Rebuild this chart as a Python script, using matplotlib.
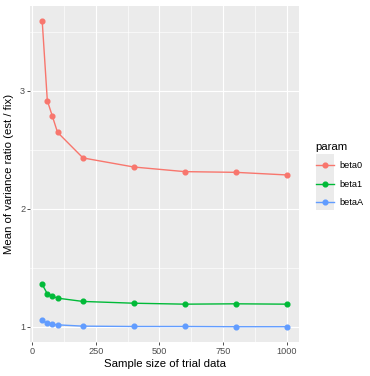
import matplotlib
matplotlib.use("Agg")
import matplotlib.pyplot as plt
from matplotlib.patches import Rectangle

# values
sample_size = [40, 60, 80, 100, 200, 400, 600, 800, 1000]
params = ["beta0", "beta1", "betaA"]
beta0 = [3.587, 2.915, 2.782, 2.647, 2.430, 2.353, 2.314, 2.308, 2.286]
beta1 = [1.359, 1.280, 1.260, 1.243, 1.215, 1.200, 1.192, 1.195, 1.192]
betaA = [1.054, 1.029, 1.020, 1.017, 1.006, 1.003, 1.003, 1.001, 1.001]
colors = ["#F8766D", "#00BA38", "#619CFF"]

plt.rcParams["font.family"] = ["Liberation Sans", "DejaVu Sans"]

fig = plt.figure(figsize=(3.70, 3.76), dpi=100)
ax = fig.add_axes([30 / 370, 1 - 342 / 376, 269 / 370, 336 / 376])
ax.set_facecolor("#EBEBEB")
for s in ax.spines.values():
    s.set_visible(False)

for name, vals, c in zip(params, [beta0, beta1, betaA], colors):
    ax.plot(sample_size, vals, color=c, lw=1.0, marker="o", ms=3.4,
            mec=c, mfc=c, label=name, zorder=3)

ax.set_xlim(-8, 1048)
ymin = min(betaA + beta1 + beta0)
ymax = max(beta0)
pad = (ymax - ymin) * 0.05
ax.set_ylim(ymin - pad, ymax + pad)
ax.set_xticks([0, 250, 500, 750, 1000])
ax.set_xticks([125, 375, 625, 875], minor=True)
ax.set_yticks([1, 2, 3])
ax.set_yticks([1.5, 2.5, 3.5], minor=True)
ax.grid(which="major", color="white", lw=0.85)
ax.grid(which="minor", color="white", lw=0.45)
ax.set_axisbelow(True)
ax.tick_params(which="major", length=2.0, width=0.6, color="#333333",
               labelsize=6.55, labelcolor="#4D4D4D", pad=1.5)
ax.tick_params(which="minor", length=0)

ax.set_xlabel("Sample size of trial data", fontsize=8.2, labelpad=2)
ax.set_ylabel("Mean of variance ratio (est / fix)", fontsize=8.2, labelpad=4)

# grey key background, ggplot style
fig.patches.append(Rectangle((316 / 370, 1 - 210 / 376), 18 / 370, 56 / 376,
                             transform=fig.transFigure, facecolor="#EBEBEB",
                             edgecolor="none", zorder=1))
leg = fig.legend(loc="upper left", bbox_to_anchor=(313 / 370, 1 - 139 / 376),
                 frameon=False, title="param", title_fontsize=8.2,
                 fontsize=6.55, handlelength=2.0, handletextpad=0.55,
                 labelspacing=1.05, alignment="left", borderaxespad=0,
                 borderpad=0.3)

fig.savefig("out.png", dpi=100)
